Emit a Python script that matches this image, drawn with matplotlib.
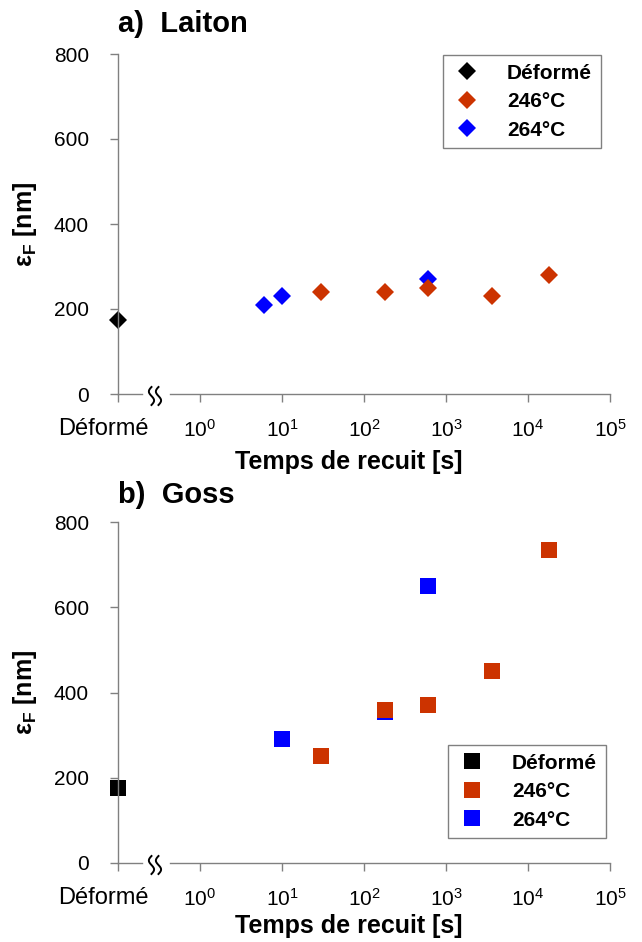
import matplotlib
matplotlib.use('Agg')
import matplotlib.pyplot as plt
import numpy as np
from matplotlib import transforms

plt.rcParams['font.family'] = ['Liberation Sans', 'DejaVu Sans']
plt.rcParams['mathtext.fontset'] = 'custom'
plt.rcParams['mathtext.rm'] = 'Liberation Sans'
plt.rcParams['mathtext.bf'] = 'Liberation Sans:bold'
plt.rcParams['mathtext.it'] = 'Liberation Sans:italic'

# ---------------- data ----------------
series_names = ['Déformé', '246°C', '264°C']
series_colors = ['#000000', '#CC3300', '#0000FF']
x_tick_pos = [0.1, 1, 10, 100, 1000, 10000, 100000]
x_tick_labels = ['Déformé', '$10^{0}$', '$10^{1}$', '$10^{2}$', '$10^{3}$', '$10^{4}$', '$10^{5}$']
y_ticks = [0, 200, 400, 600, 800]
deforme_t = [0.1]

laiton_def_v = [175]
laiton_246_t = [30, 180, 600, 3600, 18000]
laiton_246_v = [240, 240, 250, 230, 280]
laiton_264_t = [6, 10, 600]
laiton_264_v = [210, 230, 270]

goss_def_v = [175]
goss_246_t = [30, 180, 600, 3600, 18000]
goss_246_v = [250, 360, 370, 450, 735]
goss_264_t = [10, 180, 600]
goss_264_v = [290, 355, 650]

titles = ['a)  Laiton', 'b)  Goss']
xlabel = 'Temps de recuit [s]'
ylabel = r'ε$_{\mathbf{F}}$ [nm]'

W, H = 642, 942
fig = plt.figure(figsize=(W / 100, H / 100), dpi=100)

AXC = '#808080'


def draw_break(ax, xb):
    trans = fig.dpi_scale_trans + transforms.ScaledTranslation(xb, 0, ax.transData)
    yy = np.linspace(-9, 9, 60)
    for dx0 in (-3.5, 3.5):
        xx = dx0 - 2.6 * np.sin(np.pi * yy / 9)
        ax.plot(xx / 100, (yy - 2) / 100, color='black', lw=1.4,
                transform=trans, clip_on=False)


def panel(rect, def_v, t246, v246, t264, v264, marker, ms, leg_xy, xlab_y):
    ax = fig.add_axes(rect)
    ax.set_xscale('log')
    ax.set_xlim(0.1, 1e5)
    ax.set_ylim(0, 800)
    for s in ['top', 'right', 'bottom']:
        ax.spines[s].set_visible(False)
    ax.spines['left'].set_color(AXC)
    ax.spines['left'].set_linewidth(1.0)
    ax.set_xticks(x_tick_pos)
    ax.set_xticklabels([''] + x_tick_labels[1:])
    ax.xaxis.set_minor_locator(matplotlib.ticker.NullLocator())
    ax.set_yticks(y_ticks)
    ax.tick_params(axis='both', direction='out', length=6, width=1.0, color=AXC,
                   labelsize=15)
    ax.tick_params(axis='y', pad=15)
    ax.tick_params(axis='x', pad=12)
    # first category label ("Déformé"), drawn a little larger and left-shifted like the reference
    ax.annotate(x_tick_labels[0], xy=(x_tick_pos[0], 0), xycoords=('data', 'axes fraction'),
                xytext=(22, -25), textcoords='offset points', ha='right', va='center',
                fontsize=17)

    # broken x axis line
    ax.plot([0.1, 10 ** -0.707], [0, 0], color=AXC, lw=1.0, clip_on=False)
    ax.plot([10 ** -0.366, 1e5], [0, 0], color=AXC, lw=1.0, clip_on=False)
    draw_break(ax, 10 ** -0.549)

    kw = dict(marker=marker, ms=ms, ls='none', mew=0, clip_on=False)
    h264, = ax.plot(t264, v264, color=series_colors[2], **kw)
    h246, = ax.plot(t246, v246, color=series_colors[1], **kw)
    hdef, = ax.plot(deforme_t, def_v, color=series_colors[0], **kw)

    ax.set_xlabel(xlabel, fontsize=18, fontweight='bold')
    ax.xaxis.set_label_coords(0.47, xlab_y)
    ax.set_ylabel(ylabel, fontsize=18, fontweight='bold')
    ax.yaxis.set_label_coords(-0.16, 0.5)

    leg = ax.legend([hdef, h246, h264], series_names, loc='upper left',
                    bbox_to_anchor=(leg_xy[0] / W, 1 - leg_xy[1] / H),
                    bbox_transform=fig.transFigure,
                    prop={'weight': 'bold', 'size': 15},
                    frameon=True, fancybox=False, borderpad=0.42,
                    handlelength=1.5, handletextpad=1.15, labelspacing=0.45,
                    borderaxespad=0, numpoints=1)
    leg.get_frame().set_edgecolor('#606060')
    leg.get_frame().set_linewidth(1.0)
    return ax


rect_a = [118 / W, 1 - 394 / H, 492 / W, 340 / H]
rect_b = [118 / W, 1 - 863 / H, 492 / W, 341 / H]

panel(rect_a, laiton_def_v, laiton_246_t, laiton_246_v,
      laiton_264_t, laiton_264_v, 'D', 9.2, (443, 55), -0.165)
panel(rect_b, goss_def_v, goss_246_t, goss_246_v,
      goss_264_t, goss_264_v, 's', 11.5, (448, 745), -0.15)

fig.text(118 / W, 1 - 24 / H, titles[0], fontsize=21, fontweight='bold', va='center', ha='left')
fig.text(118 / W, 1 - 495 / H, titles[1], fontsize=21, fontweight='bold', va='center', ha='left')

fig.savefig('out.png', dpi=100)
